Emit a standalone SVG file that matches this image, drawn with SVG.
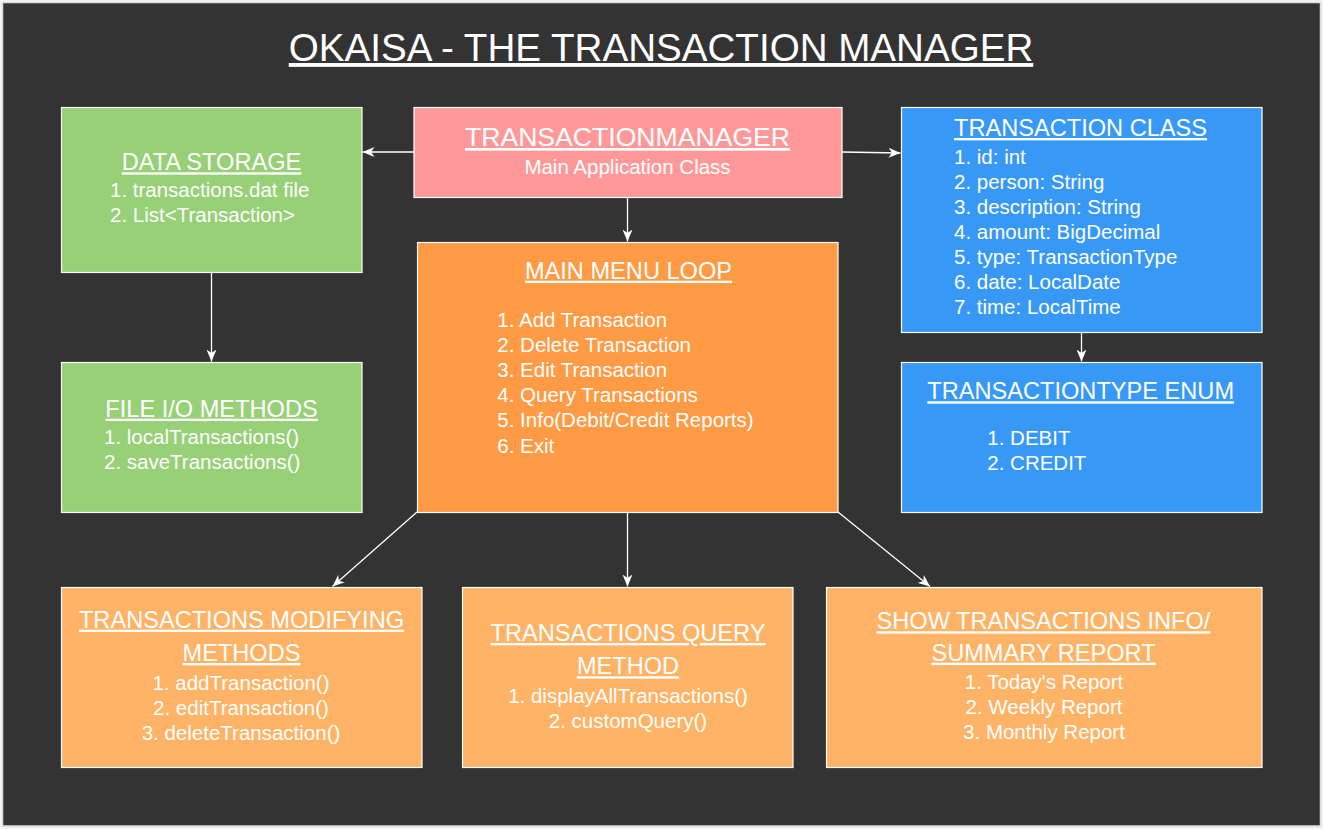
<svg xmlns="http://www.w3.org/2000/svg" width="1323" height="829" viewBox="0 0 1323 829">
<style>
text{font-family:"Liberation Sans",Arial,Helvetica,sans-serif;fill:#ffffff}
.box{stroke:#ffffff;stroke-width:1.2}
.green{fill:#97D077}
.pink{fill:#FF9999}
.orange{fill:#FF9A45}
.blue{fill:#3898F5}
.lorange{fill:#FFB366}
.h{font-size:23.6px;text-decoration:underline}
.b{font-size:20.5px}
.c{text-anchor:middle}
.conn{stroke:#ffffff;stroke-width:1.3;fill:none;marker-end:url(#arr)}
</style>
<defs>
<marker id="arr" markerWidth="13" markerHeight="11" refX="12" refY="5.5" orient="auto" markerUnits="userSpaceOnUse">
<path d="M0,0.5 L12,5.5 L0,10.5 L3.5,5.5 Z" fill="#ffffff"/>
</marker>
</defs>
<rect x="0" y="0" width="1323" height="829" fill="#f2f2f2"/>
<rect x="2.5" y="2.5" width="1318" height="823.5" fill="#333333" stroke="#dddddd" stroke-width="1.5"/>
<text id="title" x="661" y="61" class="c" style="font-size:38.6px;text-decoration:underline">OKAISA - THE TRANSACTION MANAGER</text>

<g id="connectors">
<line class="conn" x1="414" y1="152" x2="362.5" y2="152"/>
<line class="conn" x1="842" y1="152" x2="900.5" y2="153"/>
<line class="conn" x1="627.5" y1="197" x2="627.5" y2="241.5"/>
<line class="conn" x1="211.5" y1="272" x2="211.5" y2="361.5"/>
<line class="conn" x1="1081.5" y1="332" x2="1081.5" y2="361.5"/>
<line class="conn" x1="417" y1="512" x2="332.5" y2="586.5"/>
<line class="conn" x1="627.5" y1="512" x2="627.5" y2="586.5"/>
<line class="conn" x1="838" y1="512" x2="930" y2="586.5"/>
</g>

<g id="transactionmanager">
<rect class="box pink" x="414" y="107.5" width="428" height="90"/>
<text x="627.5" y="146" class="c" style="font-size:26.6px;text-decoration:underline">TRANSACTIONMANAGER</text>
<text x="627.5" y="173.5" class="c b">Main Application Class</text>
</g>

<g id="data-storage">
<rect class="box green" x="61.5" y="107.5" width="300.5" height="165"/>
<text x="211.5" y="170.3" class="c h">DATA STORAGE</text>
<text x="110" y="196.7" class="b">1. transactions.dat file</text>
<text x="110" y="221.7" class="b">2. List&lt;Transaction&gt;</text>
</g>

<g id="file-io">
<rect class="box green" x="61.5" y="362.5" width="300.5" height="150"/>
<text x="211.5" y="416.7" class="c h">FILE I/O METHODS</text>
<text x="104" y="444.3" class="b">1. localTransactions()</text>
<text x="104" y="469.3" class="b">2. saveTransactions()</text>
</g>

<g id="main-menu">
<rect class="box orange" x="417.5" y="242.5" width="420.5" height="270"/>
<text x="628.5" y="278.7" class="c h">MAIN MENU LOOP</text>
<text x="497.3" y="326.5" class="b">1. Add Transaction</text>
<text x="497.3" y="351.5" class="b">2. Delete Transaction</text>
<text x="497.3" y="376.5" class="b">3. Edit Transaction</text>
<text x="497.3" y="401.5" class="b">4. Query Transactions</text>
<text x="497.3" y="426.5" class="b">5. Info(Debit/Credit Reports)</text>
<text x="497.3" y="453" class="b">6. Exit</text>
</g>

<g id="transaction-class">
<rect class="box blue" x="901.5" y="107.5" width="360.5" height="225"/>
<text x="954" y="136" class="h">TRANSACTION CLASS</text>
<text x="954" y="164" class="b">1. id: int</text>
<text x="954" y="189" class="b">2. person: String</text>
<text x="954" y="214" class="b">3. description: String</text>
<text x="954" y="239" class="b">4. amount: BigDecimal</text>
<text x="954" y="264" class="b">5. type: TransactionType</text>
<text x="954" y="289" class="b">6. date: LocalDate</text>
<text x="954" y="314" class="b">7. time: LocalTime</text>
</g>

<g id="transactiontype-enum">
<rect class="box blue" x="901.5" y="362.5" width="360.5" height="150"/>
<text x="1080.7" y="399.3" class="c h">TRANSACTIONTYPE ENUM</text>
<text x="987.3" y="444.5" class="b">1. DEBIT</text>
<text x="987.3" y="470" class="b">2. CREDIT</text>
</g>

<g id="modifying-methods">
<rect class="box lorange" x="61.5" y="587.5" width="360.5" height="180"/>
<text x="241.5" y="627.7" class="c h">TRANSACTIONS MODIFYING</text>
<text x="241.5" y="661" class="c h">METHODS</text>
<text x="241" y="690" class="c b">1. addTransaction()</text>
<text x="241" y="715" class="c b">2. editTransaction()</text>
<text x="241" y="740" class="c b">3. deleteTransaction()</text>
</g>

<g id="query-method">
<rect class="box lorange" x="462.5" y="587.5" width="330.5" height="180"/>
<text x="628" y="641" class="c h">TRANSACTIONS QUERY</text>
<text x="628" y="674.3" class="c h">METHOD</text>
<text x="628" y="703.3" class="c b">1. displayAllTransactions()</text>
<text x="628" y="728.3" class="c b">2. customQuery()</text>
</g>

<g id="summary-report">
<rect class="box lorange" x="826.5" y="587.5" width="435.5" height="180"/>
<text x="1043.5" y="629.3" class="c h">SHOW TRANSACTIONS INFO/</text>
<text x="1043.5" y="660.7" class="c h">SUMMARY REPORT</text>
<text x="1044" y="689" class="c b">1. Today's Report</text>
<text x="1044" y="714" class="c b">2. Weekly Report</text>
<text x="1044" y="739.3" class="c b">3. Monthly Report</text>
</g>
</svg>
